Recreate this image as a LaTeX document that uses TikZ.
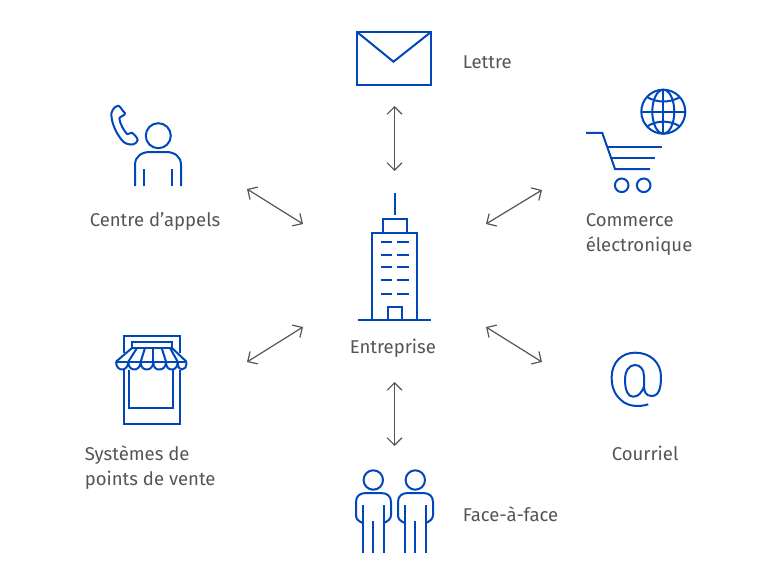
\documentclass[tikz,border=0pt]{standalone}
\usepackage{fontspec}
\setmainfont{Fira Sans}[Ligatures=NoCommon]
\usetikzlibrary{arrows.meta}
\definecolor{iconblue}{HTML}{0047BB}
\definecolor{txt}{HTML}{555555}
\tikzset{
  x=0.75pt,y=-0.75pt,
  icon/.style={draw=iconblue,line width=1.5pt,line join=miter},
  link/.style={draw=txt,line width=0.9pt,{Straight Barb[length=5.5pt,width=11pt]}-{Straight Barb[length=5.5pt,width=11pt]}},
  label/.style={text=txt,font=\fontsize{13.9}{18.75}\selectfont,inner sep=0pt,anchor=base west,align=left}
}
\begin{document}
\begin{tikzpicture}
\useasboundingbox (0,0) rectangle (768,585);
\fill[white] (0,0) rectangle (768,585);
% connector ends
\coordinate (ct) at (394.5,106); \coordinate (cta) at (394.5,171);
\coordinate (cb) at (394.5,382); \coordinate (cba) at (394.5,446);
\coordinate (lu) at (247,189); \coordinate (lua) at (303,224);
\coordinate (ru) at (486,224); \coordinate (rua) at (542,190);
\coordinate (ll) at (247,362); \coordinate (lla) at (303,327);
\coordinate (rl) at (486,327); \coordinate (rla) at (542,362);
\draw[link] (ct) -- (cta);
\draw[link] (cb) -- (cba);
\draw[link] (lu) -- (lua);
\draw[link] (ru) -- (rua);
\draw[link] (ll) -- (lla);
\draw[link] (rl) -- (rla);
% envelope
\draw[icon] (357,32) rectangle (431,85);
\draw[icon] (357,32) -- (393.5,61.7) -- (431,32);
% phone and person
\draw[icon,line join=round] (118.3,105.7) .. controls (120,106) and (122,110) .. (125,113.3)
  .. controls (125,116) and (120,116) .. (119.3,118.3)
  .. controls (120,124) and (124,131) .. (127.3,134.3)
  .. controls (129,134.5) and (130,132.5) .. (131.7,132.7)
  .. controls (134,134) and (137,137) .. (137.7,140)
  .. controls (137.5,142) and (135,144) .. (133.3,144.3)
  .. controls (130,145) and (126,144) .. (123.3,141.7)
  .. controls (118,136) and (113,127) .. (111.7,118.3)
  .. controls (111,114) and (111.5,111) .. (112.7,110)
  .. controls (114,108) and (116,105.5) .. (118.3,105.7) -- cycle;
\draw[icon] (158.3,135.7) circle[radius=12.5];
\draw[icon] (135,186) -- (135,165) .. controls (135,156) and (142,152) .. (150,152)
  -- (166,152) .. controls (174,152) and (181,156) .. (181,165) -- (181,186);
\draw[icon] (144,169) -- (144,186) (172,169) -- (172,186);
% cart and globe
\draw[icon] (663.3,111.7) circle[radius=22];
\draw[icon] (663.3,111.7) ellipse[x radius=11,y radius=22];
\draw[icon] (663,90) -- (663,134) (641,112) -- (685,112);
\draw[icon] (647,97) .. controls (657,103) and (670,103) .. (680,97);
\draw[icon] (647,126.5) .. controls (657,120) and (670,120) .. (680,126.5);
\draw[icon] (586,133) -- (602.3,133) -- (615,169) -- (650,169);
\draw[icon] (608,147) -- (662,147) (612,158) -- (655,158);
\draw[icon] (621.7,185.3) circle[radius=6.8] (643.7,185.3) circle[radius=6.8];
% building
\draw[icon] (395,193) -- (395,215);
\draw[icon] (383,233) -- (383,219) -- (407,219) -- (407,233);
\draw[icon] (372,320) -- (372,233) -- (417,233) -- (417,320);
\draw[icon] (358,320) -- (431,320);
\foreach \wy in {242,255,267,280,294}{
  \draw[icon] (381,\wy) -- (392,\wy) (397,\wy) -- (409,\wy);
}
\draw[icon] (388,320) -- (388,307) -- (402,307) -- (402,320);
% store
\draw[icon] (124,370) -- (124,424) -- (180,424) -- (180,370);
\draw[icon] (124,353) -- (124,336) -- (180,336) -- (180,353);
\draw[icon] (129,370) -- (129,408) -- (173,408) -- (173,370);
\draw[icon] (132,342) rectangle (172,348);
\draw[icon,line join=round] (132,348) -- (116,361.7) (172,348) -- (186.5,361.7);
\draw[icon,line join=round] (116,362) -- (186.5,362);
\draw[icon,line join=round] (116,361.7) .. controls (116,368) and (120,369.5) .. (122,369.5)
  .. controls (125,369.5) and (128.3,367) .. (128.3,361.7)
  .. controls (128.3,368) and (132,369.5) .. (134.5,369.5)
  .. controls (137,369.5) and (140.7,367) .. (140.7,361.7)
  .. controls (140.7,368) and (144,369.5) .. (147,369.5)
  .. controls (150,369.5) and (153.3,367) .. (153.3,361.7)
  .. controls (153.3,368) and (156,369.5) .. (159.5,369.5)
  .. controls (163,369.5) and (166,367) .. (166,361.7)
  .. controls (166,368) and (169,369.5) .. (172,369.5)
  .. controls (175,369.5) and (177.7,367) .. (177.7,361.7)
  .. controls (177.7,368) and (180,369.5) .. (182,369.5)
  .. controls (185,369.5) and (186.5,367) .. (186.5,361.7);
\draw[icon] (137,348) -- (128.3,361.7);
\draw[icon] (145,348) -- (140.7,361.7);
\draw[icon] (153,348) -- (153,361.7);
\draw[icon] (161.7,348) -- (166,361.7);
\draw[icon] (170,348) -- (177.7,361.7);
% at sign
\draw[icon] (648.3,404.3) .. controls (640,407) and (628,407) .. (621,400)
  .. controls (614,394) and (611.5,386) .. (611.7,376.7)
  .. controls (612,362) and (622,352.7) .. (635,352.7)
  .. controls (651,352.7) and (661,363) .. (661,377)
  .. controls (661,388) and (659,396) .. (651.7,396)
  .. controls (646,396) and (644,392) .. (644,386)
  -- (644,376) .. controls (644,369) and (640,365) .. (635,365)
  .. controls (629,365) and (625,371) .. (625,380)
  .. controls (625,390) and (628,396.7) .. (633,396.7)
  .. controls (638,396.7) and (642,393) .. (644,386);
% people
\foreach \dx in {0,42}{
  \begin{scope}[xshift=\dx*0.75pt]
  \draw[icon] (373.3,480) circle[radius=9.7];
  \draw[icon] (363,523) .. controls (358,521) and (356,519) .. (356,515)
    -- (356,502) .. controls (356,496) and (360,493) .. (366,493)
    -- (381,493) .. controls (387,493) and (391,496) .. (391,502)
    -- (391,515) .. controls (391,519) and (388,521) .. (384,523);
  \draw[icon] (363,505) -- (363,553) (384,505) -- (384,553) (373,521) -- (373,553);
  \end{scope}
}
% labels
\node[label] (lettre) at (462.5,69) {Lettre};
\node[label] (centre) at (89.5,226) {Centre d\symbol{39}appels};
\node[label] (comm1) at (585.5,226) {Commerce};
\node[label] (comm2) at (585.5,251) {électronique};
\node[label] (entr) at (349.5,353) {Entreprise};
\node[label] (sys1) at (84.5,460) {Systèmes de};
\node[label] (sys2) at (84.5,485) {points de vente};
\node[label] (cour) at (611.5,460) {Courriel};
\node[label] (face) at (462.5,521) {Face-à-face};
\end{tikzpicture}
\end{document}
